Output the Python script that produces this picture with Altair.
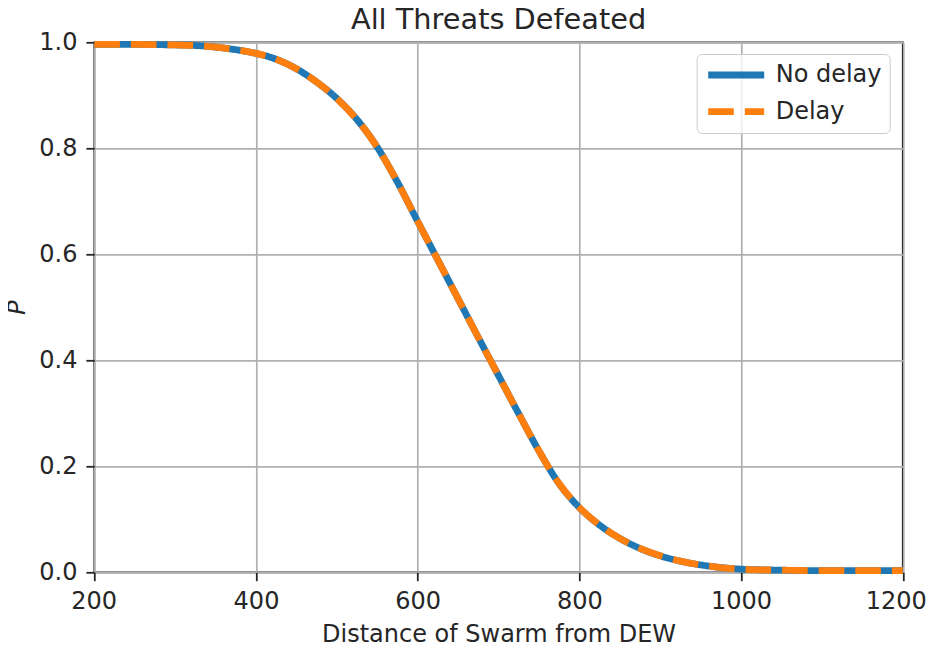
import altair as alt
import pandas as pd

# values
distance = [200, 250, 300, 325, 350, 375, 400, 425, 450, 475, 500, 525, 550, 575, 600,
            625, 650, 675, 700, 725, 750, 775, 800, 825, 850, 875, 900, 925, 950,
            975, 1000, 1050, 1100, 1150, 1200]
p_no_delay = [0.996, 0.996, 0.995, 0.994, 0.991, 0.986, 0.979, 0.968, 0.950, 0.925,
              0.894, 0.854, 0.802, 0.736, 0.662, 0.589, 0.516, 0.443, 0.371, 0.299,
              0.229, 0.167, 0.122, 0.089, 0.064, 0.045, 0.031, 0.021, 0.014, 0.009,
              0.006, 0.004, 0.003, 0.003, 0.003]
p_delay = [0.996, 0.996, 0.995, 0.994, 0.991, 0.986, 0.979, 0.968, 0.950, 0.925,
           0.894, 0.854, 0.802, 0.736, 0.662, 0.589, 0.516, 0.443, 0.371, 0.299,
           0.229, 0.167, 0.122, 0.089, 0.064, 0.045, 0.031, 0.021, 0.014, 0.009,
           0.006, 0.004, 0.003, 0.003, 0.003]
series_names = ["No delay", "Delay"]
x_ticks = [200, 400, 600, 800, 1000, 1200]
y_ticks = [0.0, 0.2, 0.4, 0.6, 0.8, 1.0]
title_text = "All Threats Defeated"

rows = []
for name, vals in zip(series_names, [p_no_delay, p_delay]):
    for d, v in zip(distance, vals):
        rows.append({"distance": d, "P": v, "series": name})
df = pd.DataFrame(rows)

FONT = "DejaVu Sans"
TXT = "#262626"
W, H = 808.5, 530
FS = 24

x_enc = alt.X("distance:Q",
              scale=alt.Scale(domain=[200, 1200], nice=False, zero=False),
              axis=alt.Axis(values=x_ticks, format="d", title="Distance of Swarm from DEW",
                            titleX=W / 2, titleY=69.4, titleBaseline="alphabetic",
                            titleAnchor="middle", labelPadding=9,
                            labelFlush=True, labelFlushOffset=23.5))
y_enc = alt.Y("P:Q",
              scale=alt.Scale(domain=[0, 1], nice=False),
              axis=alt.Axis(values=y_ticks, format=".1f", title="P",
                            titleFontStyle="italic", titleAngle=-90,
                            titleX=-69.5, titleY=H / 2, titleBaseline="alphabetic",
                            titleAlign="center", labelPadding=9, labelFlush=False))
color_enc = alt.Color("series:N",
                      scale=alt.Scale(domain=series_names, range=["#1f77b4", "#ff7f0e"]),
                      legend=alt.Legend(title=None, orient="none", legendX=602.4, legendY=11.7,
                                        symbolType="stroke", symbolSize=3136,
                                        symbolStrokeWidth=6.8, labelFontSize=FS,
                                        labelFont=FONT, labelColor=TXT, labelOffset=8,
                                        fillColor="rgba(255,255,255,0.8)",
                                        strokeColor="#cccccc", cornerRadius=5,
                                        padding=8, clipHeight=26, rowPadding=10.7))
dash_enc = alt.StrokeDash("series:N",
                          scale=alt.Scale(domain=series_names, range=[[1, 0], [25.6, 11]]),
                          legend=None)

base = alt.Chart(df).encode(x=x_enc, y=y_enc, color=color_enc, strokeDash=dash_enc)
line_a = base.transform_filter(alt.datum.series == "No delay").mark_line(
    strokeWidth=6.8, interpolate="monotone")
line_b = base.transform_filter(alt.datum.series == "Delay").mark_line(
    strokeWidth=6.8, interpolate="monotone", strokeCap="butt")

title_mark = alt.Chart(pd.DataFrame({"t": [title_text]})).mark_text(
    font=FONT, fontSize=28.8, color=TXT, align="center", baseline="alphabetic"
).encode(text="t:N", x=alt.value(W / 2), y=alt.value(-13))

chart = alt.layer(line_a, line_b, title_mark).properties(
    width=W, height=H,
    autosize=alt.AutoSizeParams(type="none"),
    padding={"left": 86.3, "top": 34.3, "right": 26, "bottom": 71},
).configure_view(
    stroke=TXT, strokeWidth=1.8
).configure_axis(
    labelFont=FONT, titleFont=FONT, labelFontSize=FS, titleFontSize=FS,
    labelColor=TXT, titleColor=TXT, titleFontWeight="normal",
    grid=True, gridColor="#b0b0b0", gridWidth=1.7,
    domain=False, ticks=True, tickSize=8.4, tickWidth=1.8, tickColor=TXT,
)

chart.save("out.html", embed_options={"renderer": "svg", "actions": False})
